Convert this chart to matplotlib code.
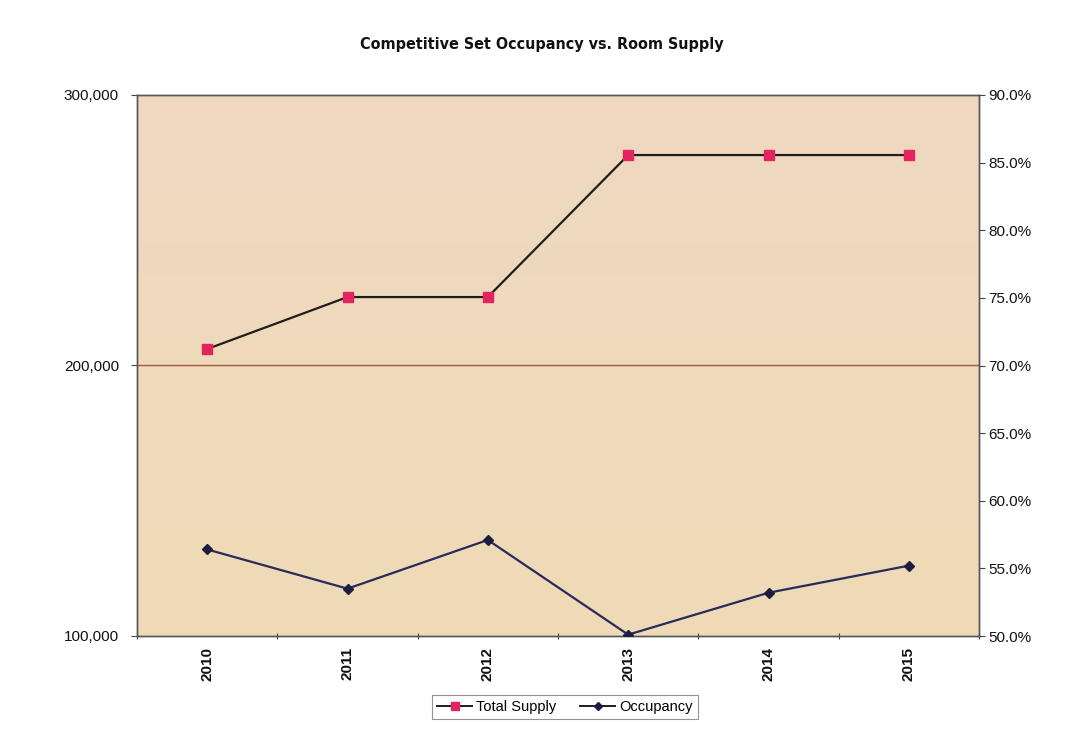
import numpy as np
import matplotlib
matplotlib.use("Agg")
import matplotlib.pyplot as plt
from matplotlib.ticker import FuncFormatter, FixedLocator
from matplotlib.lines import Line2D

years = ["2010", "2011", "2012", "2013", "2014", "2015"]
total_supply = [206100, 225300, 225300, 277800, 277800, 277800]
occupancy = [56.4, 53.5, 57.1, 50.1, 53.2, 55.2]

plt.rcParams["font.family"] = ["Liberation Sans", "DejaVu Sans"]

fig = plt.figure(figsize=(10.67, 7.32), dpi=100)
ax = fig.add_axes([137 / 1067, 1 - 636 / 732, 842 / 1067, 541 / 732])
ax2 = ax.twinx()

x = np.arange(len(years))

# parchment-like background with a soft vertical tint
grad = np.linspace(0, 1, 256).reshape(-1, 1)
top = np.array([239, 216, 193]) / 255
bot = np.array([238, 219, 182]) / 255
img = top * (1 - grad[..., None]) + bot * grad[..., None]
img = np.repeat(img, 2, axis=1)
ax.imshow(img, extent=[-0.5, 5.5, 100000, 300000], aspect="auto", zorder=0,
          origin="upper")

ax.set_xlim(-0.5, 5.5)
ax.set_ylim(100000, 300000)
ax2.set_ylim(50, 90)

ax.axhline(200000, color="#a9553a", lw=1.0, zorder=1)

ax.plot(x, total_supply, color="#1e1e1e", lw=1.6, marker="s", ms=7,
        mfc="#e3245f", mec="#e3245f", zorder=3)
ax2.plot(x, occupancy, color="#2a2a5a", lw=1.6, marker="D", ms=5,
         mfc="#1c1c40", mec="#1c1c40", zorder=3)

ax.set_yticks([100000, 200000, 300000])
ax.yaxis.set_major_formatter(FuncFormatter(lambda v, p: f"{v:,.0f}"))
ax2.set_yticks(np.arange(50, 90.1, 5))
ax2.yaxis.set_major_formatter(FuncFormatter(lambda v, p: f"{v:.1f}%"))

ax.xaxis.set_major_locator(FixedLocator(np.arange(-0.5, 6.0, 1.0)))
ax.xaxis.set_major_formatter(FuncFormatter(lambda v, p: ""))
ax.xaxis.set_minor_locator(FixedLocator(x))
ax.set_xticklabels(years, minor=True, rotation=90, fontsize=11, fontweight="bold")
ax.tick_params(axis="x", which="minor", length=0, pad=8)
ax.tick_params(axis="x", which="major", length=4, direction="inout", color="#444444")

ax.tick_params(axis="y", length=4, direction="out", labelsize=11, color="#444444",
               pad=9)
ax2.tick_params(axis="y", length=4, direction="out", labelsize=11, color="#444444",
                pad=3)
for lab in ax.get_yticklabels() + ax2.get_yticklabels():
    lab.set_color("#111111")
for lab in ax.get_xticklabels(minor=True):
    lab.set_color("#111111")

for a in (ax, ax2):
    for s in a.spines.values():
        s.set_color("#555555")
        s.set_linewidth(1.0)

fig.text(542 / 1067, 1 - 45 / 732, "Competitive Set Occupancy vs. Room Supply",
         ha="center", va="center", fontsize=11.5, fontweight="bold",
         family="DejaVu Sans", fontstretch="condensed", color="#111111")

handles = [
    Line2D([], [], color="#1e1e1e", lw=1.4, marker="s", ms=6,
           mfc="#e3245f", mec="#e3245f"),
    Line2D([], [], color="#1e1e1e", lw=1.4, marker="D", ms=4.5,
           mfc="#1c1c40", mec="#1c1c40"),
]
leg = fig.legend(handles, ["Total Supply", "Occupancy"], loc="center",
                 bbox_to_anchor=(565 / 1067, 1 - 707 / 732), ncol=2,
                 frameon=True, fancybox=False, fontsize=10.5,
                 handlelength=2.4, columnspacing=1.6, handletextpad=0.3,
                 borderpad=0.35)
leg.get_frame().set_edgecolor("#777777")
leg.get_frame().set_linewidth(0.8)

fig.savefig("out.png", dpi=100, facecolor="white")
